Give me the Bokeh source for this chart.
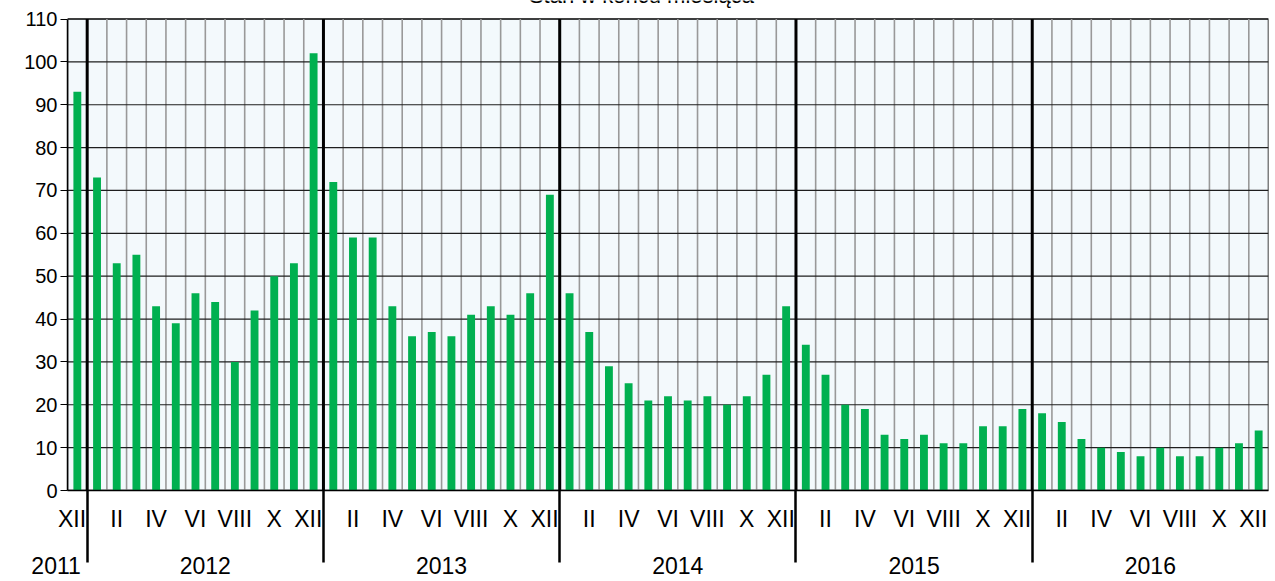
from bokeh.plotting import figure
from bokeh.models import Range1d, FixedTicker, Label, LinearAxis
from bokeh.embed import file_html
from bokeh.resources import INLINE

# ---- data ----
title_text = "Stan w końcu miesiąca"
roman = ["I", "II", "III", "IV", "V", "VI", "VII", "VIII", "IX", "X", "XI", "XII"]
years = [2011, 2012, 2013, 2014, 2015, 2016]
values_2011 = [93]                      # only XII 2011
values_2012 = [73, 53, 55, 43, 39, 46, 44, 30, 42, 50, 53, 102]
values_2013 = [72, 59, 59, 43, 36, 37, 36, 41, 43, 41, 46, 69]
values_2014 = [46, 37, 29, 25, 21, 22, 21, 22, 20, 22, 27, 43]
values_2015 = [34, 27, 20, 19, 13, 12, 13, 11, 11, 15, 15, 19]
values_2016 = [18, 16, 12, 10, 9, 8, 10, 8, 8, 10, 11, 14]
y_ticks = list(range(0, 111, 10))
Y_MAX = 110

FONT = "Liberation Sans"
NBSP = "\u00a0"

# ---- derived ----
periods = [(2011, 12)] + [(y, m) for y in years[1:] for m in range(1, 13)]
vals = values_2011 + values_2012 + values_2013 + values_2014 + values_2015 + values_2016
n = len(periods)
xs = [i + 0.5 for i in range(n)]
year_bounds = [i for i, (y, m) in enumerate(periods) if m == 1]

# ---- layout (pixels) ----
W, H = 1272, 581
PLOT_L, PLOT_R = 67, 1268          # where x=0 and x=n fall
PLOT_TOP = 18.5                    # where y=110 falls
MB_BOTTOM = 91
frame_bottom = H - MB_BOTTOM
px_per_unit = (frame_bottom - PLOT_TOP) / Y_MAX
y_end = Y_MAX + PLOT_TOP / px_per_unit

month_ticks, month_over = [], {}
for i, (y, m) in enumerate(periods):
    if m % 2 == 0:
        pos = i + 0.5 - (0.27 if m == 12 else 0.0)
        month_ticks.append(pos)
        month_over[pos] = roman[m - 1]

year_ticks, year_over = [], {}
for y in years:
    idx = [i for i, (yy, m) in enumerate(periods) if yy == y]
    if len(idx) == 1:
        # lone "2011": tick at the plot's left edge, text pushed left of its separator
        pos = 0.07
        year_over[pos] = str(y) + NBSP * 4
    else:
        pos = (idx[0] + idx[-1]) / 2 + 0.5
        year_over[pos] = str(y)
    year_ticks.append(pos)

p = figure(width=W, height=H, x_range=Range1d(0, n), y_range=Range1d(0, y_end),
           output_backend="svg", toolbar_location=None,
           min_border_left=PLOT_L, min_border_right=W - PLOT_R,
           min_border_top=0, min_border_bottom=MB_BOTTOM,
           background_fill_color="white", border_fill_color="white")
p.outline_line_color = None
p.xgrid.visible = False
p.ygrid.visible = False

# plot area background + border
p.quad(left=[0], right=[n], bottom=[0], top=[Y_MAX], fill_color="#F3F9FC",
       line_color="black", line_width=1.5)
# month grid (gray), value grid (black), year separators (thick black)
p.segment(x0=list(range(1, n)), x1=list(range(1, n)), y0=[0] * (n - 1), y1=[Y_MAX] * (n - 1),
          line_color="#999999", line_width=1.6)
hy = y_ticks[1:-1]
p.segment(x0=[0] * len(hy), x1=[n] * len(hy), y0=hy, y1=hy, line_color="#1e1e1e", line_width=1.2)
p.segment(x0=year_bounds, x1=year_bounds, y0=[0] * len(year_bounds),
          y1=[Y_MAX] * len(year_bounds), line_color="black", line_width=3)

p.vbar(x=xs, top=vals, width=0.4, fill_color="#00B050", line_color=None)

# y axis
ya = p.yaxis[0]
ya.bounds = (0, Y_MAX)
ya.ticker = FixedTicker(ticks=y_ticks)
ya.major_tick_out = 7
ya.major_tick_in = 0
ya.major_tick_line_color = "black"
ya.minor_tick_line_color = None
ya.axis_line_color = "black"
ya.axis_line_width = 1.5
ya.major_label_standoff = 3
ya.major_label_text_font = FONT
ya.major_label_text_font_size = "20px"
ya.major_label_text_color = "black"

# x axis (months) + year separators below the axis as long minor ticks
xa = p.xaxis[0]
xa.ticker = FixedTicker(ticks=month_ticks, minor_ticks=year_bounds)
xa.major_label_overrides = month_over
xa.major_tick_line_color = None
xa.major_tick_out = 0
xa.major_tick_in = 0
xa.minor_tick_in = 0
xa.minor_tick_out = 72
xa.minor_tick_line_color = "black"
xa.minor_tick_line_width = 2.5
xa.axis_line_color = "black"
xa.axis_line_width = 1.5
xa.major_label_standoff = -57
xa.major_label_text_font = FONT
xa.major_label_text_font_size = "23px"
xa.major_label_text_color = "black"

# second axis with the years
ax_year = LinearAxis(ticker=FixedTicker(ticks=year_ticks), major_label_overrides=year_over,
                     major_tick_line_color=None, major_tick_out=0, major_tick_in=0,
                     minor_tick_line_color=None, axis_line_color=None,
                     major_label_standoff=18,
                     major_label_text_font=FONT, major_label_text_font_size="23px",
                     major_label_text_color="black")
p.add_layout(ax_year, "below")

# title (cut off at the top, as in the original)
p.add_layout(Label(x=29.15, y=Y_MAX + (PLOT_TOP + 4.7) / px_per_unit, text=title_text,
                   text_align="center", text_baseline="alphabetic", text_font=FONT,
                   text_font_size="22px", text_color="black"))

open("out.html", "w").write(file_html(p, INLINE))
